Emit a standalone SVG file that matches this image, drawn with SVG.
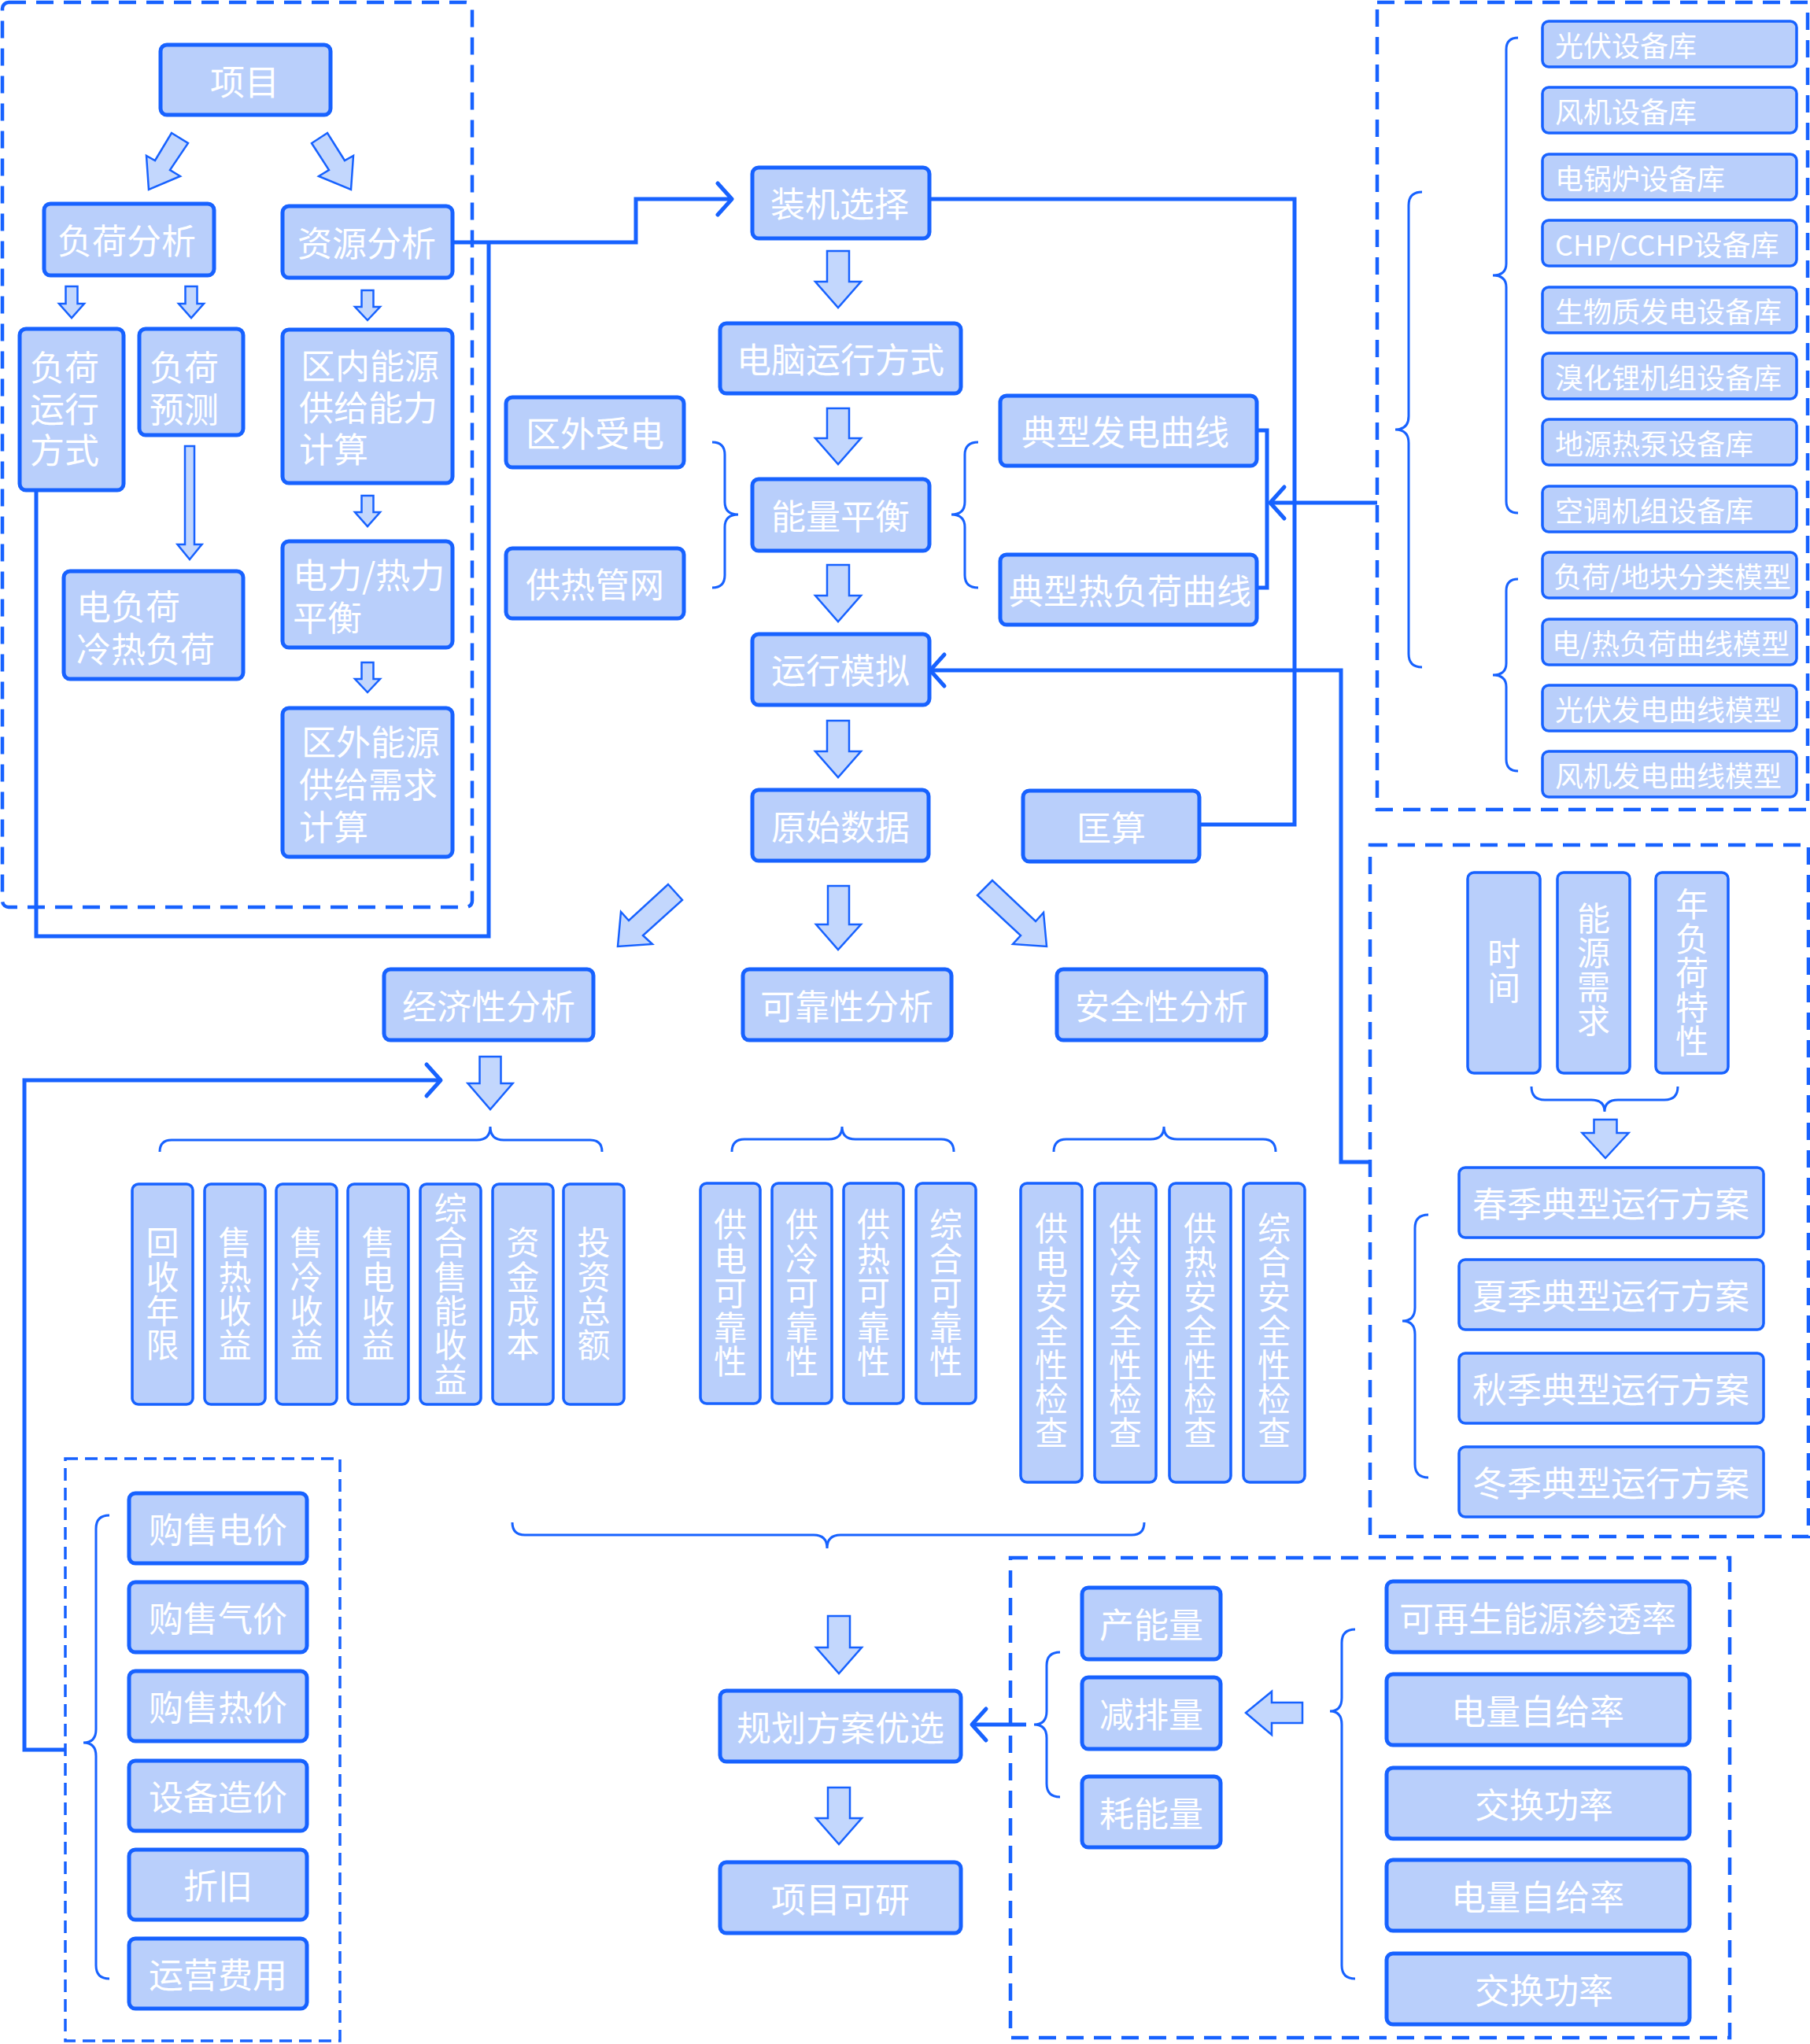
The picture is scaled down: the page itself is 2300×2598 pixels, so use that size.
<svg xmlns="http://www.w3.org/2000/svg" width="2300" height="2598" viewBox="0 0 2300 2598">
<style>
.box{fill:#b9cffb;stroke:#1762ff;stroke-width:5}
.thin{stroke-width:3.5}
.t{font-family:"Noto Sans CJK SC","Noto Sans",sans-serif;fill:#fff;font-size:44px;dominant-baseline:central;text-anchor:middle}
.ts{text-anchor:start}
.v{font-size:42px;writing-mode:vertical-rl;letter-spacing:1.4px}
.s36{font-size:36px}
.arr{fill:#c3d7fd;stroke:#1762ff;stroke-width:2.5;stroke-linejoin:miter}
.conn{fill:none;stroke:#1762ff;stroke-width:5}
.brace{fill:none;stroke:#1762ff;stroke-width:3}
.dash{fill:none;stroke:#1762ff;stroke-width:4.5;stroke-dasharray:22 13}
.dash2{fill:none;stroke:#1762ff;stroke-width:3.5;stroke-dasharray:16 9}
</style>
<defs>
<marker id="chev" markerUnits="userSpaceOnUse" viewBox="-25 -25 30 50" markerWidth="30" markerHeight="50" refX="0" refY="0" orient="auto" overflow="visible">
<path d="M-18,-20 L0,0 L-18,20" fill="none" stroke="#1762ff" stroke-width="5" stroke-linecap="round" stroke-linejoin="round"/>
</marker>
</defs>
<rect width="2300" height="2598" fill="#fff"/>

<g id="frames">
<rect class="dash" x="3" y="3" width="597" height="1150" rx="8"/>
<rect class="dash" x="1750" y="3" width="547" height="1026"/>
<rect class="dash" x="1741" y="1074" width="557" height="879"/>
<rect class="dash2" x="83" y="1854" width="349" height="740"/>
<rect class="dash" x="1284" y="1980" width="914" height="610"/>
</g>

<g id="connectors">
<path class="conn" d="M575,308 H808 V253 H930" marker-end="url(#chev)"/>
<path class="conn" d="M46,623 V1190 H621 V308"/>
<path class="conn" d="M1181,253 H1645 V1048 H1524"/>
<path class="conn" d="M1597,547 H1610 V747 H1597"/>
<path class="conn" d="M1750,639 H1614" marker-end="url(#chev)"/>
<path class="conn" d="M1741,1477 H1704 V852 H1182" marker-end="url(#chev)"/>
<path class="conn" d="M83,2224 H31 V1373 H560" marker-end="url(#chev)"/>
<path class="conn" d="M1304,2192 H1235" marker-end="url(#chev)"/>
</g>

<g id="braces">
<path class="brace" d="M905,562 Q921,562 921,578 L921,638 Q921,654 938,654 Q921,654 921,670 L921,731 Q921,747 905,747"/>
<path class="brace" d="M1243,562 Q1226,562 1226,578 L1226,638 Q1226,654 1209,654 Q1226,654 1226,670 L1226,731 Q1226,747 1243,747"/>
<path class="brace" d="M1929,48 Q1914,48 1914,63 L1914,335 Q1914,350 1897,350 Q1914,350 1914,365 L1914,637 Q1914,652 1929,652"/>
<path class="brace" d="M1929,736 Q1914,736 1914,751 L1914,843 Q1914,858 1897,858 Q1914,858 1914,873 L1914,965 Q1914,980 1929,980"/>
<path class="brace" d="M1807,244 Q1790,244 1790,261 L1790,529 Q1790,546 1773,546 Q1790,546 1790,563 L1790,831 Q1790,848 1807,848"/>
<path class="brace" d="M1946,1381 Q1946,1398 1963,1398 L2022,1398 Q2039,1398 2039,1413 Q2039,1398 2056,1398 L2115,1398 Q2132,1398 2132,1381"/>
<path class="brace" d="M1815,1544 Q1798,1544 1798,1561 L1798,1662 Q1798,1679 1782,1679 Q1798,1679 1798,1696 L1798,1861 Q1798,1878 1815,1878"/>
<path class="brace" d="M203,1464 Q203,1449 218,1449 L606,1449 Q623,1449 623,1432 Q623,1449 640,1449 L750,1449 Q765,1449 765,1464"/>
<path class="brace" d="M930,1464 Q930,1448 946,1448 L1053,1448 Q1070,1448 1070,1432 Q1070,1448 1087,1448 L1196,1448 Q1212,1448 1212,1464"/>
<path class="brace" d="M1339,1464 Q1339,1448 1355,1448 L1462,1448 Q1479,1448 1479,1432 Q1479,1448 1496,1448 L1605,1448 Q1621,1448 1621,1464"/>
<path class="brace" d="M651,1935 Q651,1951 667,1951 L1034,1951 Q1051,1951 1051,1968 Q1051,1951 1068,1951 L1438,1951 Q1454,1951 1454,1935"/>
<path class="brace" d="M139,1926 Q122,1926 122,1943 L122,2198 Q122,2215 106,2215 Q122,2215 122,2232 L122,2498 Q122,2515 139,2515"/>
<path class="brace" d="M1347,2100 Q1330,2100 1330,2117 L1330,2175 Q1330,2192 1314,2192 Q1330,2192 1330,2209 L1330,2267 Q1330,2284 1347,2284"/>
<path class="brace" d="M1722,2071 Q1705,2071 1705,2088 L1705,2158 Q1705,2175 1690,2175 Q1705,2175 1705,2192 L1705,2498 Q1705,2515 1722,2515"/>
</g>

<g id="arrows">
<polygon class="arr" points="218,169 239,182 216,216 229,224 189,241 186,198 197,204"/>
<polygon class="arr" points="416,169 396,182 418,216 405,224 446,241 449,198 438,204"/>
<polygon class="arr" points="83.5,364 98.5,364 98.5,386 107,386 91,404 75,386 83.5,386"/>
<polygon class="arr" points="235.5,364 250.5,364 250.5,386 259,386 243,404 227,386 235.5,386"/>
<polygon class="arr" points="459.5,369 474.5,369 474.5,390 483,390 467,407 451,390 459.5,390"/>
<polygon class="arr" points="459.5,630 474.5,630 474.5,651 483,651 467,669 451,651 459.5,651"/>
<polygon class="arr" points="459.5,842 474.5,842 474.5,863 483,863 467,880 451,863 459.5,863"/>
<polygon class="arr" points="235,567 247,567 247,692 256.5,692 241,711 225.5,692 235,692"/>
<polygon class="arr" points="1051,319 1079,319 1079,358 1094,358 1065,391 1036,358 1051,358"/>
<polygon class="arr" points="1051,519 1079,519 1079,557 1094,557 1065,590 1036,557 1051,557"/>
<polygon class="arr" points="1051,718 1079,718 1079,757 1094,757 1065,790 1036,757 1051,757"/>
<polygon class="arr" points="1051,916 1079,916 1079,955 1094,955 1065,988 1036,955 1051,955"/>
<polygon class="arr" points="1052,1126 1079,1126 1079,1175 1094,1175 1065,1207 1037,1175 1052,1175"/>
<polygon class="arr" points="849,1124 867,1144 817,1189 829,1200 785,1203 789,1159 799,1170"/>
<polygon class="arr" points="1261,1119 1242,1138 1297,1189 1287,1200 1330,1203 1326,1160 1316,1171"/>
<polygon class="arr" points="609.5,1343 636.5,1343 636.5,1377 651.5,1377 623,1410 594.5,1377 609.5,1377"/>
<polygon class="arr" points="1052,2054 1080,2054 1080,2094 1095,2094 1066,2127 1037,2094 1052,2094"/>
<polygon class="arr" points="1052,2272 1080,2272 1080,2311 1095,2311 1066,2344 1037,2311 1052,2311"/>
<polygon class="arr" points="2025.5,1423 2054.5,1423 2054.5,1440 2069.5,1440 2040,1472 2010.5,1440 2025.5,1440"/>
<polygon class="arr" points="1655,2164 1655,2190 1616,2190 1616,2205 1583,2177 1616,2150 1616,2164"/>
</g>

<g id="n-xiangmu"><rect class="box" x="204" y="57" width="216" height="89" rx="8"/><text class="t" x="311" y="102">项目</text></g>
<g id="n-fuhefenxi"><rect class="box" x="56" y="259" width="216" height="91" rx="8"/><text class="t" x="161" y="304">负荷分析</text></g>
<g id="n-ziyuanfenxi"><rect class="box" x="359" y="262" width="216" height="91" rx="8"/><text class="t" x="466" y="307">资源分析</text></g>
<g id="n-fuheyunxing"><rect class="box" x="25" y="418" width="132" height="205" rx="8"/><text class="t ts" x="38" y="465">负荷</text><text class="t ts" x="38" y="518">运行</text><text class="t ts" x="38" y="570">方式</text></g>
<g id="n-fuheyuce"><rect class="box" x="177" y="418" width="132" height="135" rx="8"/><text class="t ts" x="190" y="465">负荷</text><text class="t ts" x="190" y="518">预测</text></g>
<g id="n-qunei"><rect class="box" x="359" y="419" width="216" height="195" rx="8"/><text class="t ts" x="382" y="463">区内能源</text><text class="t ts" x="380" y="516">供给能力</text><text class="t ts" x="380" y="569">计算</text></g>
<g id="n-dianfuhe"><rect class="box" x="81" y="726" width="228" height="137" rx="8"/><text class="t ts" x="97" y="769">电负荷</text><text class="t ts" x="97" y="823">冷热负荷</text></g>
<g id="n-dianli"><rect class="box" x="359" y="688" width="216" height="135" rx="8"/><text class="t ts" x="372" y="729">电力/热力</text><text class="t ts" x="372" y="783">平衡</text></g>
<g id="n-quwai"><rect class="box" x="359" y="900" width="216" height="189" rx="8"/><text class="t ts" x="383" y="941">区外能源</text><text class="t ts" x="380" y="995">供给需求</text><text class="t ts" x="380" y="1049">计算</text></g>

<g id="n-zhuangji"><rect class="box" x="956" y="213" width="225" height="90" rx="8"/><text class="t" x="1067" y="257">装机选择</text></g>
<g id="n-diannao"><rect class="box" x="915" y="411" width="306" height="89" rx="8"/><text class="t" x="1068" y="455">电脑运行方式</text></g>
<g id="n-nengliang"><rect class="box" x="956" y="609" width="225" height="91" rx="8"/><text class="t" x="1068" y="654">能量平衡</text></g>
<g id="n-yunxingmoni"><rect class="box" x="956" y="806" width="225" height="90" rx="8"/><text class="t" x="1068" y="850">运行模拟</text></g>
<g id="n-yuanshi"><rect class="box" x="956" y="1004" width="224" height="90" rx="8"/><text class="t" x="1068" y="1049">原始数据</text></g>
<g id="n-kuangsuan"><rect class="box" x="1300" y="1005" width="224" height="90" rx="8"/><text class="t" x="1412" y="1050">匡算</text></g>
<g id="n-quwaishoudian"><rect class="box" x="643" y="505" width="226" height="89" rx="8"/><text class="t" x="756" y="549">区外受电</text></g>
<g id="n-gongre"><rect class="box" x="643" y="697" width="226" height="89" rx="8"/><text class="t" x="756" y="741">供热管网</text></g>
<g id="n-fadian"><rect class="box" x="1271" y="503" width="326" height="89" rx="8"/><text class="t" x="1430" y="547">典型发电曲线</text></g>
<g id="n-refuhe"><rect class="box" x="1271" y="705" width="326" height="89" rx="8"/><text class="t" x="1436" y="749">典型热负荷曲线</text></g>

<g id="n-jingji"><rect class="box" x="488" y="1232" width="266" height="90" rx="8"/><text class="t" x="621" y="1277">经济性分析</text></g>
<g id="n-kekao"><rect class="box" x="944" y="1232" width="265" height="90" rx="8"/><text class="t" x="1076" y="1277">可靠性分析</text></g>
<g id="n-anquan"><rect class="box" x="1343" y="1232" width="266" height="90" rx="8"/><text class="t" x="1476" y="1277">安全性分析</text></g>

<g id="n-e1"><rect class="box thin" x="168" y="1505" width="77" height="280" rx="8"/><text class="t v" x="206.5" y="1645">回收年限</text></g>
<g id="n-e2"><rect class="box thin" x="260" y="1505" width="77" height="280" rx="8"/><text class="t v" x="298.5" y="1645">售热收益</text></g>
<g id="n-e3"><rect class="box thin" x="351" y="1505" width="77" height="280" rx="8"/><text class="t v" x="389.5" y="1645">售冷收益</text></g>
<g id="n-e4"><rect class="box thin" x="442" y="1505" width="77" height="280" rx="8"/><text class="t v" x="480.5" y="1645">售电收益</text></g>
<g id="n-e5"><rect class="box thin" x="534" y="1505" width="77" height="280" rx="8"/><text class="t v" x="572.5" y="1645">综合售能收益</text></g>
<g id="n-e6"><rect class="box thin" x="626" y="1505" width="77" height="280" rx="8"/><text class="t v" x="664.5" y="1645">资金成本</text></g>
<g id="n-e7"><rect class="box thin" x="716" y="1505" width="77" height="280" rx="8"/><text class="t v" x="754.5" y="1645">投资总额</text></g>

<g id="n-r1"><rect class="box thin" x="890" y="1504" width="76" height="280" rx="8"/><text class="t v" x="928" y="1644">供电可靠性</text></g>
<g id="n-r2"><rect class="box thin" x="981" y="1504" width="76" height="280" rx="8"/><text class="t v" x="1019" y="1644">供冷可靠性</text></g>
<g id="n-r3"><rect class="box thin" x="1072" y="1504" width="76" height="280" rx="8"/><text class="t v" x="1110" y="1644">供热可靠性</text></g>
<g id="n-r4"><rect class="box thin" x="1164" y="1504" width="76" height="280" rx="8"/><text class="t v" x="1202" y="1644">综合可靠性</text></g>

<g id="n-s1"><rect class="box thin" x="1297" y="1504" width="78" height="380" rx="8"/><text class="t v" x="1336" y="1692">供电安全性检查</text></g>
<g id="n-s2"><rect class="box thin" x="1391" y="1504" width="78" height="380" rx="8"/><text class="t v" x="1430" y="1692">供冷安全性检查</text></g>
<g id="n-s3"><rect class="box thin" x="1486" y="1504" width="78" height="380" rx="8"/><text class="t v" x="1525" y="1692">供热安全性检查</text></g>
<g id="n-s4"><rect class="box thin" x="1580" y="1504" width="78" height="380" rx="8"/><text class="t v" x="1619" y="1692">综合安全性检查</text></g>

<g id="n-guihua"><rect class="box" x="915" y="2149" width="306" height="90" rx="8"/><text class="t" x="1068" y="2194">规划方案优选</text></g>
<g id="n-keyan"><rect class="box" x="915" y="2367" width="306" height="90" rx="8"/><text class="t" x="1068" y="2412">项目可研</text></g>

<g id="n-p1"><rect class="box" x="164" y="1898" width="226" height="89" rx="8"/><text class="t" x="277" y="1942">购售电价</text></g>
<g id="n-p2"><rect class="box" x="164" y="2011" width="226" height="89" rx="8"/><text class="t" x="277" y="2055">购售气价</text></g>
<g id="n-p3"><rect class="box" x="164" y="2124" width="226" height="89" rx="8"/><text class="t" x="277" y="2168">购售热价</text></g>
<g id="n-p4"><rect class="box" x="164" y="2238" width="226" height="89" rx="8"/><text class="t" x="277" y="2282">设备造价</text></g>
<g id="n-p5"><rect class="box" x="164" y="2351" width="226" height="89" rx="8"/><text class="t" x="277" y="2395">折旧</text></g>
<g id="n-p6"><rect class="box" x="164" y="2464" width="226" height="89" rx="8"/><text class="t" x="277" y="2508">运营费用</text></g>

<g id="n-channeng"><rect class="box" x="1375" y="2018" width="176" height="91" rx="8"/><text class="t" x="1463" y="2063">产能量</text></g>
<g id="n-jianpai"><rect class="box" x="1375" y="2132" width="176" height="91" rx="8"/><text class="t" x="1463" y="2177">减排量</text></g>
<g id="n-haoneng"><rect class="box" x="1375" y="2258" width="176" height="90" rx="8"/><text class="t" x="1463" y="2303">耗能量</text></g>

<g id="n-k1"><rect class="box" x="1762" y="2010" width="385" height="90" rx="8"/><text class="t" x="1954" y="2055">可再生能源渗透率</text></g>
<g id="n-k2"><rect class="box" x="1762" y="2128" width="385" height="90" rx="8"/><text class="t" x="1954" y="2173">电量自给率</text></g>
<g id="n-k3"><rect class="box" x="1762" y="2247" width="385" height="90" rx="8"/><text class="t" x="1962" y="2292">交换功率</text></g>
<g id="n-k4"><rect class="box" x="1762" y="2364" width="385" height="90" rx="8"/><text class="t" x="1954" y="2409">电量自给率</text></g>
<g id="n-k5"><rect class="box" x="1762" y="2483" width="385" height="90" rx="8"/><text class="t" x="1962" y="2528">交换功率</text></g>

<g id="n-lib1"><rect class="box thin" x="1960" y="27" width="323" height="58" rx="8"/><text class="t ts s36" x="1976" y="56">光伏设备库</text></g>
<g id="n-lib2"><rect class="box thin" x="1960" y="111" width="323" height="58" rx="8"/><text class="t ts s36" x="1976" y="140">风机设备库</text></g>
<g id="n-lib3"><rect class="box thin" x="1960" y="196" width="323" height="58" rx="8"/><text class="t ts s36" x="1976" y="225">电锅炉设备库</text></g>
<g id="n-lib4"><rect class="box thin" x="1960" y="280" width="323" height="58" rx="8"/><text class="t ts s36" x="1976" y="309">CHP/CCHP设备库</text></g>
<g id="n-lib5"><rect class="box thin" x="1960" y="365" width="323" height="58" rx="8"/><text class="t ts s36" x="1976" y="394">生物质发电设备库</text></g>
<g id="n-lib6"><rect class="box thin" x="1960" y="449" width="323" height="58" rx="8"/><text class="t ts s36" x="1976" y="478">溴化锂机组设备库</text></g>
<g id="n-lib7"><rect class="box thin" x="1960" y="533" width="323" height="58" rx="8"/><text class="t ts s36" x="1976" y="562">地源热泵设备库</text></g>
<g id="n-lib8"><rect class="box thin" x="1960" y="618" width="323" height="58" rx="8"/><text class="t ts s36" x="1976" y="647">空调机组设备库</text></g>
<g id="n-lib9"><rect class="box thin" x="1960" y="702" width="323" height="58" rx="8"/><text class="t ts s36" x="1974" y="731">负荷/地块分类模型</text></g>
<g id="n-lib10"><rect class="box thin" x="1960" y="787" width="323" height="58" rx="8"/><text class="t ts s36" x="1972" y="816">电/热负荷曲线模型</text></g>
<g id="n-lib11"><rect class="box thin" x="1960" y="871" width="323" height="58" rx="8"/><text class="t ts s36" x="1976" y="900">光伏发电曲线模型</text></g>
<g id="n-lib12"><rect class="box thin" x="1960" y="955" width="323" height="58" rx="8"/><text class="t ts s36" x="1976" y="984">风机发电曲线模型</text></g>

<g id="n-shijian"><rect class="box thin" x="1865" y="1109" width="92" height="255" rx="8"/><text class="t v" x="1911" y="1234">时间</text></g>
<g id="n-nengyuan"><rect class="box thin" x="1979" y="1109" width="92" height="255" rx="8"/><text class="t v" x="2025" y="1233">能源需求</text></g>
<g id="n-nianfuhe"><rect class="box thin" x="2104" y="1109" width="92" height="255" rx="8"/><text class="t v" x="2150" y="1237">年负荷特性</text></g>

<g id="n-chun"><rect class="box thin" x="1854" y="1484" width="387" height="89" rx="8"/><text class="t" x="2047" y="1528">春季典型运行方案</text></g>
<g id="n-xia"><rect class="box thin" x="1854" y="1601" width="387" height="89" rx="8"/><text class="t" x="2047" y="1645">夏季典型运行方案</text></g>
<g id="n-qiu"><rect class="box thin" x="1854" y="1720" width="387" height="89" rx="8"/><text class="t" x="2047" y="1764">秋季典型运行方案</text></g>
<g id="n-dong"><rect class="box thin" x="1854" y="1839" width="387" height="89" rx="8"/><text class="t" x="2047" y="1883">冬季典型运行方案</text></g>
</svg>
